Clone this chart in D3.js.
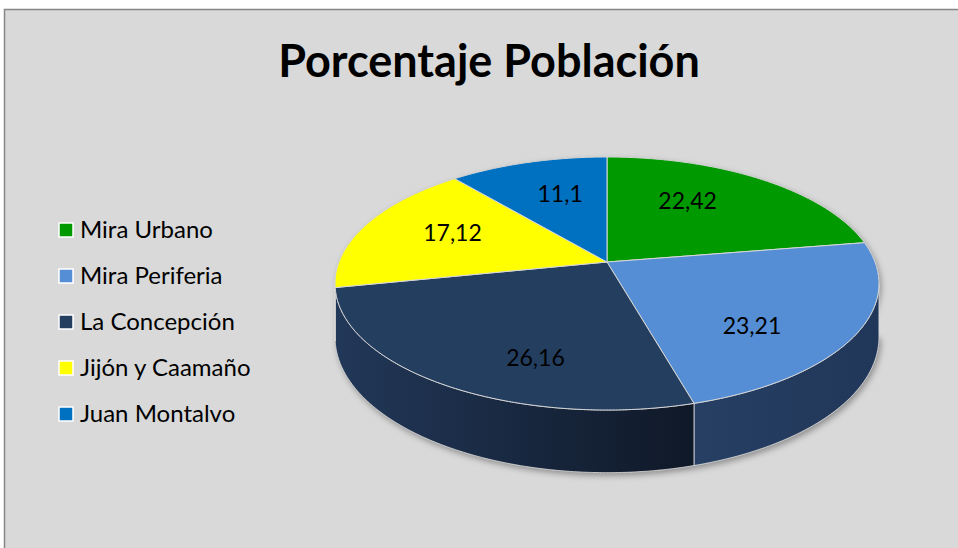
<!DOCTYPE html>
<html>
<head>
<meta charset="utf-8">
<script src="https://cdnjs.cloudflare.com/ajax/libs/d3/7.8.5/d3.min.js"></script>
<style>
  html, body { margin: 0; padding: 0; background: #fff; }
  svg { display: block; }
  text { font-family: Lato, "Open Sans", sans-serif; fill: #000; }
</style>
</head>
<body>
<svg id="chart" width="958" height="548"></svg>
<script>
// data
var chartTitle = "Porcentaje Población";
var categories = ["Mira Urbano", "Mira Periferia", "La Concepción", "Jijón y Caamaño", "Juan Montalvo"];
var values = [22.42, 23.21, 26.16, 17.12, 11.1];
var labels = ["22,42", "23,21", "26,16", "17,12", "11,1"];

var colors = ["#009900", "#558ed5", "#243e60", "#ffff00", "#0070c0"];

var svg = d3.select("#chart");
var W = 958, H = 548;

// frame
svg.append("rect").attr("x", 4.5).attr("y", 9.5).attr("width", W).attr("height", H)
   .style("fill", "#d9d9d9").style("stroke", "#868686").style("stroke-width", 1.5);

svg.append("text").attr("x", 489).attr("y", 77).attr("text-anchor", "middle")
   .style("font-size", "45px").style("font-weight", "bold").text(chartTitle);

// perspective pie geometry
var cx = 607, cy = 262, rx = 268, ry = 122.85, k = 0.17, depth = 52;

function proj(phi, r, z) {
  var s = Math.sin(phi) * r, d = Math.cos(phi) * r, w = 1 + k * d;
  return [cx + rx * s / w, cy - ry * d / w + (z || 0) / w];
}

function arcPts(a0, a1, r, z) {
  var n = Math.max(2, Math.ceil(Math.abs(a1 - a0) / 0.01)), pts = [];
  for (var i = 0; i <= n; i++) pts.push(proj(a0 + (a1 - a0) * i / n, r, z));
  return pts;
}

var pie = d3.pie().sort(null).value(function(d) { return d; });
var arcs = pie(values);
var line = d3.line();

// visible side wall: between the silhouette points
var wallL = Math.acos(-k), wallR = 2 * Math.PI - Math.acos(-k);

var defs = svg.append("defs");
var f = defs.append("filter").attr("id", "shadow").attr("x", "-10%").attr("y", "-10%").attr("width", "120%").attr("height", "130%");
f.append("feDropShadow").attr("dx", 2).attr("dy", 3).attr("stdDeviation", 3)
 .attr("flood-color", "#000").attr("flood-opacity", 0.35);

var sideGrad = [
  ["#20375a", "#20375a"],
  ["#263f63", "#213759"],
  ["#223859", "#0f1827"],
  ["#b3b300", "#999900"],
  ["#004f87", "#003f6b"]
];
sideGrad.forEach(function(g, i) {
  var lg = defs.append("linearGradient").attr("id", "side" + i).attr("x1", 0).attr("x2", 1).attr("y1", 0).attr("y2", 0);
  lg.append("stop").attr("offset", "0%").attr("stop-color", g[0]);
  lg.append("stop").attr("offset", "100%").attr("stop-color", g[1]);
});

// shadow under the whole pie
var body = arcPts(wallL, wallR, 1, 0).concat(arcPts(wallR, wallL, 1, depth));
svg.append("path").attr("d", line(arcPts(0, 2 * Math.PI, 1, 0)) + line(body).replace("M", "L"))
   .style("fill", "#999").attr("filter", "url(#shadow)");

var walls = svg.append("g");
arcs.forEach(function(s, i) {
  var a0 = Math.max(s.startAngle, wallL), a1 = Math.min(s.endAngle, wallR);
  if (a1 <= a0) return;
  var pts = arcPts(a0, a1, 1, 0).concat(arcPts(a1, a0, 1, depth));
  walls.append("path").attr("d", line(pts) + "Z")
    .style("fill", "url(#side" + i + ")")
    .style("stroke", "#dcdcdc").style("stroke-width", 0.8);
});

var tops = svg.append("g");
arcs.forEach(function(s, i) {
  var pts = [proj(0, 0, 0)].concat(arcPts(s.startAngle, s.endAngle, 1, 0));
  tops.append("path").attr("d", line(pts) + "Z")
    .style("fill", colors[i])
    .style("stroke", "#d8d8d8").style("stroke-width", 1).style("stroke-linejoin", "round");
});

// data labels: blend of the mid-angle point and the on-screen wedge bisector
function labelPos(s) {
  var mid = (s.startAngle + s.endAngle) / 2;
  var p1 = proj(mid, 0.61, Math.max(0, -Math.cos(mid)) * depth * 0.45);
  var c = proj(0, 0, 0), e0 = proj(s.startAngle, 1), e1 = proj(s.endAngle, 1);
  var t0 = Math.atan2(e0[1] - c[1], e0[0] - c[0]), t1 = Math.atan2(e1[1] - c[1], e1[0] - c[0]);
  if (t1 < t0) t1 += 2 * Math.PI;
  var tb = (t0 + t1) / 2, best = null, bd = 1e9;
  arcPts(s.startAngle, s.endAngle, 1, 0).forEach(function(p) {
    var t = Math.atan2(p[1] - c[1], p[0] - c[0]);
    var dd = Math.abs(Math.atan2(Math.sin(t - tb), Math.cos(t - tb)));
    if (dd < bd) { bd = dd; best = p; }
  });
  var p2 = [c[0] + 0.7 * (best[0] - c[0]), c[1] + 0.7 * (best[1] - c[1])];
  return [(p1[0] + p2[0]) / 2, (p1[1] + p2[1]) / 2];
}

arcs.forEach(function(s, i) {
  var p = labelPos(s);
  svg.append("text").attr("x", p[0]).attr("y", p[1] + 8).attr("text-anchor", "middle")
     .style("font-size", "23px").text(labels[i]);
});

// legend
var ly = d3.scalePoint().domain(categories).range([230, 414]);
var lg = svg.append("g");
categories.forEach(function(c, i) {
  lg.append("rect").attr("x", 59).attr("y", ly(c) - 7).attr("width", 14).attr("height", 14)
    .style("fill", colors[i]).style("stroke", "#fff").style("stroke-width", 1.5);
  lg.append("text").attr("x", 80).attr("y", ly(c) + 8).style("font-size", "24px").text(c);
});
</script>
</body>
</html>
